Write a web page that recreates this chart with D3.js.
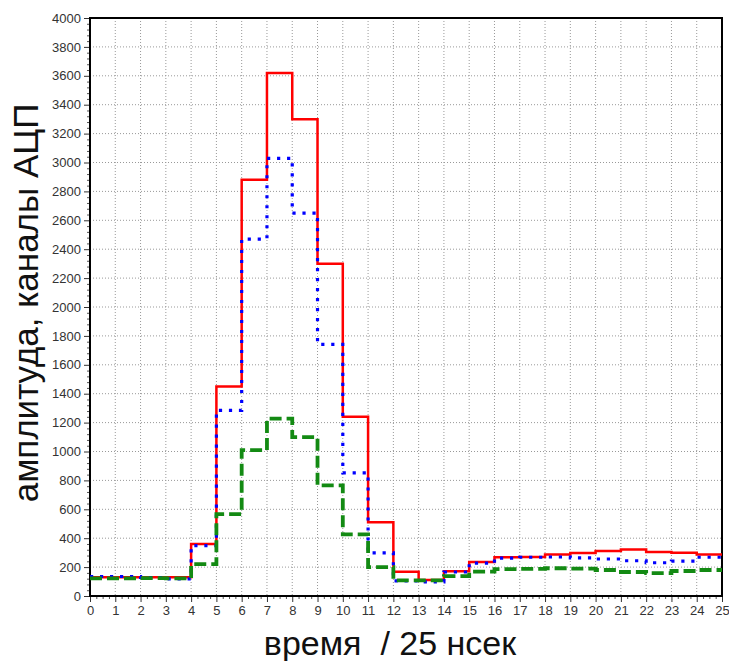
<!DOCTYPE html>
<html><head><meta charset="utf-8">
<script src="https://cdn.jsdelivr.net/npm/d3@7"></script>
<style>body{margin:0;background:#fff}</style>
</head><body>
<svg id="c" width="729" height="661"></svg>
<script>
const bins = d3.range(0, 25);
const redVals   = [130,130,130,130,360,1450,2880,3620,3300,2300,1240,510,168,110,172,235,268,270,288,297,311,322,305,300,288];
const blueVals  = [135,135,128,118,348,1285,2470,3028,2650,1742,852,298,104,98,166,228,262,268,270,264,256,244,230,242,268];
const greenVals = [122,122,124,122,220,567,1010,1228,1100,765,426,200,108,108,138,168,186,188,192,190,180,166,158,173,180];
const xTicks = d3.range(0, 26);
const yTicks = d3.range(0, 4001, 200);
const xLabel = "время  / 25 нсек";
const yLabel = "амплитуда, каналы АЦП";

const svg = d3.select("#c");
const L = 90, R = 722, T = 18, B = 596;
const x = d3.scaleLinear().domain([0, 25]).range([L, R]);
const y = d3.scaleLinear().domain([0, 4000]).range([B, T]);

// grid
const g = svg.append("g");
g.selectAll(".gx").data(xTicks.slice(1, -1)).join("line")
  .attr("x1", d => x(d)).attr("x2", d => x(d)).attr("y1", T).attr("y2", B)
  .attr("stroke", "#999").attr("stroke-dasharray", "1,2");
g.selectAll(".gy").data(yTicks.slice(1, -1)).join("line")
  .attr("y1", d => y(d)).attr("y2", d => y(d)).attr("x1", L).attr("x2", R)
  .attr("stroke", "#999").attr("stroke-dasharray", "1,2");

// minor ticks
const yMinor = d3.range(0, 4001, 40).filter(v => v % 200 !== 0);
const xMinor = d3.range(0, 25.01, 0.25).filter(v => v % 1 !== 0);
svg.append("g").attr("transform", `translate(${L},0)`)
  .call(d3.axisLeft(y).tickValues(yMinor).tickSize(3).tickFormat(""))
  .call(a => a.select(".domain").remove()).selectAll("line").attr("stroke", "#555");
svg.append("g").attr("transform", `translate(0,${B})`)
  .call(d3.axisBottom(x).tickValues(xMinor).tickSize(3).tickFormat(""))
  .call(a => a.select(".domain").remove()).selectAll("line").attr("stroke", "#555");

// major axes
const ya = svg.append("g").attr("transform", `translate(${L},0)`)
  .call(d3.axisLeft(y).tickValues(yTicks).tickSize(6).tickPadding(3).tickFormat(d3.format("d")));
const xa = svg.append("g").attr("transform", `translate(0,${B})`)
  .call(d3.axisBottom(x).tickValues(xTicks).tickSize(6).tickPadding(4).tickFormat(d3.format("d")));
[ya, xa].forEach(a => {
  a.select(".domain").remove();
  a.selectAll("text").attr("font-family", "Liberation Sans, Arial, sans-serif").attr("font-size", 13).attr("fill", "#333");
  a.selectAll("line").attr("stroke", "#333");
});

// frame
svg.append("rect").attr("x", L).attr("y", T).attr("width", R - L).attr("height", B - T)
  .attr("fill", "none").attr("stroke", "#000").attr("stroke-width", 2);

// series
const line = d3.line().x(d => x(d[0])).y(d => y(d[1])).curve(d3.curveStepAfter);
function pts(vals) { const p = bins.map((b, i) => [b, vals[i]]); p.push([25, vals[vals.length - 1]]); return p; }
svg.append("path").attr("d", line(pts(redVals))).attr("fill", "none")
  .attr("stroke", "#ff0000").attr("stroke-width", 2.5);
svg.append("path").attr("d", line(pts(blueVals))).attr("fill", "none")
  .attr("stroke", "#0000ff").attr("stroke-width", 3.2).attr("stroke-dasharray", "3.2,6.8");
svg.append("path").attr("d", line(pts(greenVals))).attr("fill", "none")
  .attr("stroke", "#138a13").attr("stroke-width", 3.8).attr("stroke-dasharray", "12,5");

// labels
svg.append("text").attr("x", 390).attr("y", 655).attr("text-anchor", "middle")
  .attr("font-family", "Liberation Sans, Arial, sans-serif").attr("font-size", 34).attr("fill", "#111")
  .attr("xml:space", "preserve").style("white-space", "pre").text(xLabel);
svg.append("text").attr("transform", "translate(38,303) rotate(-90)").attr("text-anchor", "middle")
  .attr("font-family", "Liberation Sans, Arial, sans-serif").attr("font-size", 35).attr("fill", "#111")
  .text(yLabel);
</script>
</body></html>
